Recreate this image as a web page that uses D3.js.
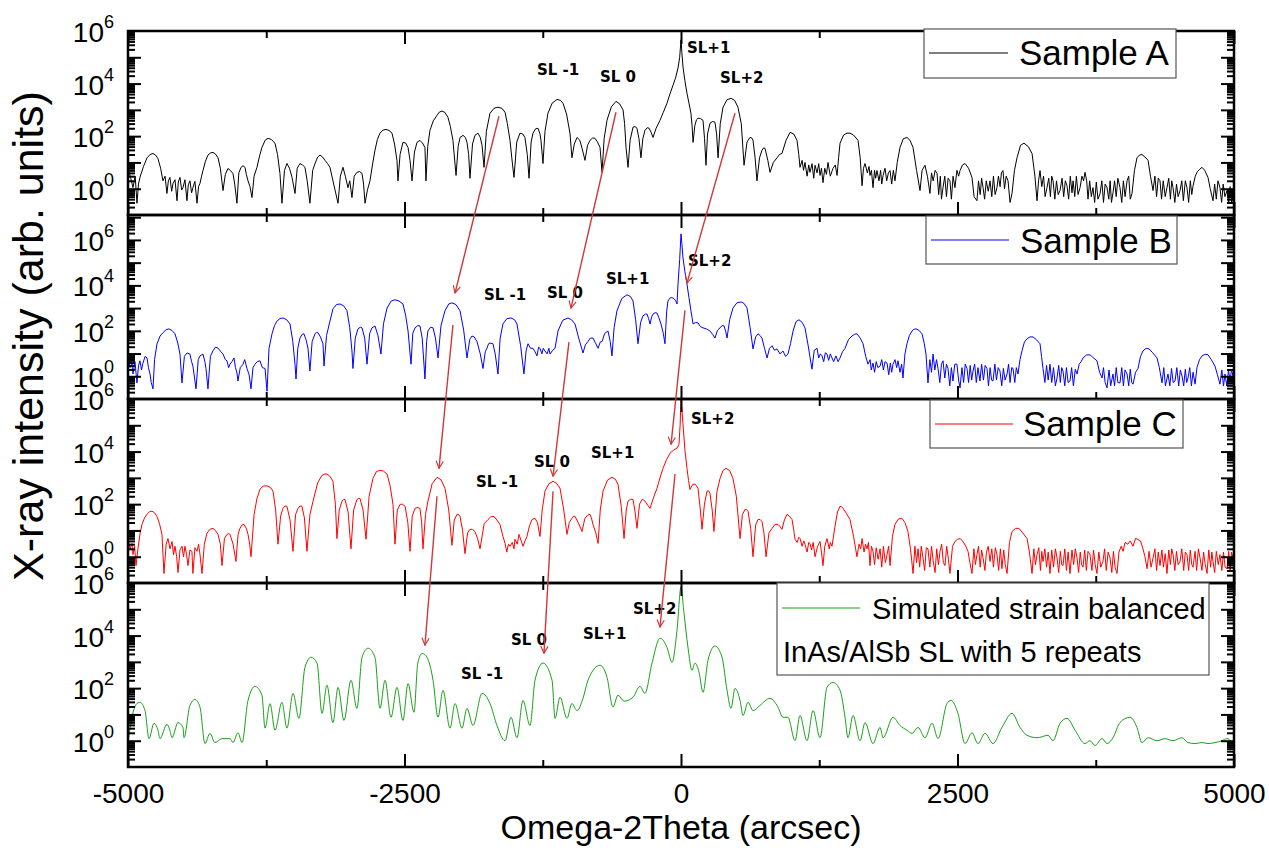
<!DOCTYPE html>
<html>
<head>
<meta charset="utf-8">
<script src="https://cdn.jsdelivr.net/npm/d3@7"></script>
<style>
  body { margin: 0; background: #fff; }
  svg { display: block; font-family: "Liberation Sans", Arial, sans-serif; }
</style>
</head>
<body>
<svg id="chart" width="1269" height="848"></svg>
<script>
/* Stacked omega-2theta XRD scans, log intensity, four samples */

// x axis ticks (arcsec)
var xMajor = [-5000, -2500, 0, 2500, 5000];
var xMinor = [-3750, -1250, 1250, 3750];

// y axis decades that carry a label, and each panel's intensity range
var yLabelPowers = [0, 2, 4, 6];
var yDomains = [[0.1, 1e6], [0.1, 1.25e7], [0.1, 1e6], [0.1, 1e6]];

// [arcsec, intensity]
var sampleA = [
  [-5000,5.9],[-4975,2.5],[-4955,1.1],[-4935,3],[-4919,0.28],[-4905,1.5],[-4892,2.7],[-4860,7],[-4828,15],[-4800,20],
  [-4774,22],[-4750,19],[-4729,14],[-4705,6],[-4684,2],[-4665,3],[-4648,0.66],[-4635,2],[-4621,2.7],[-4605,0.8],
  [-4593,1.6],[-4575,2.2],[-4557,0.35],[-4545,1.8],[-4530,2.7],[-4515,0.9],[-4503,1.1],[-4485,2.2],[-4467,0.35],[-4455,1.4],
  [-4440,2],[-4425,0.7],[-4413,1.1],[-4395,1.9],[-4376,0.28],[-4362,1.2],[-4349,1.6],[-4335,3],[-4322,4.9],[-4300,11],
  [-4277,19],[-4255,23],[-4232,24],[-4210,21],[-4186,15],[-4165,6],[-4141,0.85],[-4120,3.5],[-4096,5.9],[-4075,5],
  [-4051,3.8],[-4035,1.5],[-4015,0.28],[-3998,4],[-3978,6.5],[-3960,7.5],[-3942,6.5],[-3930,3.5],[-3915,2],[-3897,1.2],
  [-3879,0.46],[-3860,3],[-3834,6.5],[-3810,18],[-3789,37],[-3760,70],[-3734,83],[-3705,75],[-3671,54],[-3648,20],
  [-3626,3.8],[-3608,0.28],[-3585,5],[-3563,9.1],[-3540,6],[-3517,2.7],[-3490,0.66],[-3470,6],[-3445,9.1],[-3422,8],
  [-3400,6.5],[-3380,2],[-3355,0.28],[-3330,5],[-3309,9.1],[-3285,16],[-3264,19],[-3240,16],[-3219,12],[-3195,9],
  [-3174,6.5],[-3147,2],[-3101,0.28],[-3080,3],[-3056,6.5],[-3035,3],[-3011,1.1],[-2995,2],[-2975,0.46],[-2955,3],
  [-2930,4.2],[-2905,4.5],[-2884,3.8],[-2870,1.5],[-2857,0.28],[-2835,0.9],[-2812,2],[-2790,8],[-2767,29],[-2745,75],
  [-2722,130],[-2695,170],[-2667,180],[-2640,165],[-2613,130],[-2590,50],[-2568,12],[-2559,2],[-2540,20],[-2514,58],
  [-2490,55],[-2468,37],[-2450,12],[-2432,2],[-2410,25],[-2387,58],[-2360,69],[-2338,55],[-2315,37],[-2306,2],
  [-2290,40],[-2270,165],[-2240,380],[-2206,620],[-2185,820],[-2161,900],[-2135,800],[-2107,520],[-2085,230],[-2062,69],
  [-2034,3.2],[-2015,40],[-1998,89],[-1971,107],[-1950,90],[-1935,58],[-1920,20],[-1908,2.5],[-1885,50],[-1863,107],
  [-1836,130],[-1815,90],[-1799,45],[-1781,6.5],[-1760,150],[-1727,740],[-1690,1150],[-1655,1260],[-1620,1150],[-1591,810],
  [-1570,300],[-1546,69],[-1530,15],[-1510,2.7],[-1485,60],[-1456,130],[-1430,120],[-1411,89],[-1390,20],[-1374,2.5],
  [-1355,60],[-1338,130],[-1315,190],[-1293,200],[-1275,120],[-1266,69],[-1248,9.1],[-1230,150],[-1203,740],[-1165,1800],
  [-1121,2500],[-1090,2300],[-1067,1780],[-1035,700],[-1004,130],[-986,15],[-965,50],[-940,89],[-915,70],[-895,35],
  [-868,12],[-845,45],[-823,69],[-800,85],[-778,83],[-755,60],[-732,37],[-714,4.2],[-695,80],[-669,400],
  [-630,1300],[-588,2100],[-555,1700],[-524,1000],[-510,300],[-497,37],[-479,6.5],[-460,70],[-434,220],[-415,230],
  [-398,200],[-380,80],[-362,15],[-345,80],[-326,165],[-305,210],[-289,200],[-270,140],[-253,89],[-225,200],
  [-190,400],[-160,800],[-127,1780],[-100,4000],[-72,8700],[-50,16000],[-27,39000],[-12,100000],[0,460000],[8,150000],
  [18,43000],[35,13000],[54,4300],[72,1800],[90,740],[100,250],[109,58],[125,250],[140,420],[154,480],
  [175,470],[199,400],[213,80],[226,7.8],[240,120],[262,310],[285,360],[307,340],[322,120],[335,15],
  [355,300],[380,1260],[415,2400],[452,2750],[485,2300],[515,1260],[545,300],[570,7.8],[597,60],[624,89],
  [640,85],[651,69],[670,15],[687,2],[710,15],[732,29],[748,36],[760,34],[785,12],[805,4.2],
  [835,10],[868,15],[890,20],[913,22],[950,70],[986,140],[1020,120],[1049,69],[1065,20],[1076,6.5],
  [1095,12],[1108,5],[1121,10],[1140,3],[1155,8],[1166,4.2],[1185,9],[1200,2.5],[1212,7.8],[1230,4],
  [1245,9],[1257,3.2],[1270,6],[1284,1.7],[1300,6],[1315,3.5],[1329,10],[1350,3],[1374,5.9],[1395,8],
  [1411,3.2],[1425,15],[1438,54],[1470,110],[1501,130],[1528,130],[1560,110],[1601,69],[1620,15],[1637,1.3],
  [1650,6],[1664,9.1],[1685,4],[1700,7],[1709,3.2],[1722,5],[1736,1.1],[1750,5],[1760,2.5],[1772,4.9],
  [1790,2],[1805,5],[1815,1.5],[1827,3.2],[1845,6],[1860,2],[1875,4],[1890,4.9],[1905,1.5],[1920,5],
  [1935,2],[1955,10],[1980,37],[2010,80],[2043,89],[2070,70],[2098,37],[2130,5],[2161,0.85],[2180,5],
  [2206,7.8],[2228,3],[2251,0.66],[2265,4],[2280,2],[2298,5],[2315,3.8],[2330,0.6],[2345,3],[2355,0.4],
  [2369,1.1],[2385,3],[2400,0.5],[2415,2.5],[2432,2],[2445,0.4],[2460,3],[2477,1.1],[2495,5],[2510,3],
  [2523,4.9],[2545,8],[2568,9.1],[2600,6],[2631,2.7],[2650,0.5],[2676,0.35],[2690,2],[2705,0.6],[2718,2.5],
  [2731,1.1],[2745,0.4],[2760,2],[2778,0.8],[2794,2],[2810,0.5],[2825,3],[2840,0.6],[2857,1.1],[2870,3],
  [2885,1.2],[2897,4],[2911,4.9],[2925,1],[2940,3],[2957,2],[2975,0.3],[2993,0.66],[3015,5],[3038,15],
  [3070,45],[3101,54],[3140,40],[3174,22],[3200,3],[3219,0.35],[3233,2],[3246,4.9],[3262,1.2],[3278,3],
  [3292,0.5],[3309,1.1],[3325,2.5],[3340,0.5],[3352,3],[3364,2],[3380,0.4],[3395,2],[3410,0.6],[3427,0.85],
  [3445,2.5],[3460,0.5],[3475,2],[3490,1.3],[3505,0.4],[3520,3],[3535,0.7],[3545,2],[3560,0.5],[3575,3],
  [3590,0.6],[3608,1.1],[3625,3],[3640,2],[3653,4.2],[3668,2],[3680,0.4],[3695,2],[3710,0.5],[3725,1.1],
  [3740,0.3],[3755,1.8],[3770,0.4],[3789,0.66],[3805,2],[3820,0.3],[3835,1.5],[3852,1.1],[3868,0.4],[3880,2],
  [3892,0.3],[3906,0.7],[3920,2],[3935,0.5],[3950,2.5],[3969,1.1],[3985,0.3],[4000,2],[4015,0.5],[4033,2],
  [4048,3],[4062,0.4],[4078,0.66],[4100,5],[4123,15],[4145,19],[4168,20],[4195,16],[4223,12],[4245,3],
  [4268,0.85],[4285,3],[4300,0.5],[4315,2.5],[4331,2],[4345,0.4],[4360,2],[4378,0.5],[4394,1.1],[4410,2.5],
  [4425,0.4],[4437,2],[4449,1.1],[4465,0.3],[4480,1.5],[4495,0.5],[4512,0.85],[4528,2],[4542,0.35],[4560,2],
  [4575,1.1],[4590,0.3],[4605,2],[4618,0.6],[4630,1.3],[4650,3],[4670,4.5],[4690,5.5],[4711,6.5],[4735,5],
  [4765,2.7],[4785,1],[4810,0.35],[4825,1.5],[4840,0.4],[4855,2],[4873,1.1],[4888,0.3],[4902,1.5],[4918,0.5],
  [4937,0.85],[4952,0.3],[4965,1.2],[4980,0.3],[4991,0.7],[5000,1.2]
];

var sampleB = [
  [-5000,6.4],[-4982,2.4],[-4964,3.4],[-4955,1.26],[-4937,4.4],[-4919,0.51],[-4905,3],[-4892,4.8],[-4878,1.9],[-4865,3.8],
  [-4845,7.5],[-4828,6.4],[-4815,2.4],[-4801,1.26],[-4790,0.53],[-4774,0.28],[-4760,5.4],[-4738,26.6],[-4710,59],[-4684,82],
  [-4655,113],[-4630,122],[-4600,101],[-4575,74],[-4550,29],[-4530,9.5],[-4512,0.51],[-4490,7.5],[-4467,10.6],[-4440,9.5],
  [-4425,4.4],[-4413,2.8],[-4385,0.28],[-4365,5.4],[-4349,7.9],[-4322,9.5],[-4305,4.4],[-4295,2.2],[-4277,0.28],[-4255,7.5],
  [-4232,13.1],[-4210,19.1],[-4186,17.4],[-4160,12],[-4141,9.5],[-4120,5.4],[-4105,4.8],[-4090,2.4],[-4078,3.4],[-4060,4.4],
  [-4042,6.4],[-4028,2.4],[-4015,1.4],[-4006,0.62],[-3985,2.4],[-3960,3.4],[-3945,5.4],[-3924,2.2],[-3905,1.17],[-3888,0.28],
  [-3870,2.4],[-3852,3.4],[-3830,4.4],[-3807,4.8],[-3785,2.4],[-3761,2.2],[-3743,0.22],[-3725,16.7],[-3698,74],[-3675,170],
  [-3653,268],[-3625,350],[-3599,368],[-3565,307],[-3535,200],[-3510,34],[-3490,3.4],[-3481,0.76],[-3465,16.7],[-3445,48],
  [-3425,71],[-3409,74],[-3390,40],[-3373,17.4],[-3355,1.7],[-3335,34],[-3309,74],[-3295,86],[-3282,82],[-3260,54],
  [-3237,27],[-3228,2.8],[-3205,62],[-3174,268],[-3147,925],[-3115,1430],[-3083,1520],[-3050,1260],[-3020,763],[-2995,138],
  [-2975,13],[-2966,2.2],[-2945,48],[-2921,122],[-2900,144],[-2884,135],[-2860,48],[-2839,3.4],[-2815,77],[-2794,135],
  [-2767,164],[-2740,62],[-2713,9.5],[-2690,204],[-2658,1007],[-2620,2054],[-2586,2330],[-2550,2054],[-2514,1520],[-2490,490],
  [-2468,98],[-2441,3.4],[-2425,77],[-2405,135],[-2380,170],[-2360,164],[-2340,48],[-2315,0.76],[-2300,34],[-2288,98],
  [-2265,144],[-2242,135],[-2220,48],[-2197,6.4],[-2170,170],[-2134,763],[-2100,1520],[-2071,1700],[-2035,1430],[-1998,763],
  [-1965,107],[-1935,6.4],[-1910,42],[-1890,59],[-1870,54],[-1845,34],[-1815,9.7],[-1790,2.2],[-1770,12],[-1754,17.4],
  [-1740,27],[-1727,29],[-1700,27],[-1680,9.7],[-1655,1.26],[-1635,48],[-1610,200],[-1575,343],[-1537,368],[-1505,307],
  [-1483,200],[-1450,22],[-1420,1.26],[-1400,14],[-1383,27],[-1360,17],[-1338,17],[-1320,12],[-1302,7.9],[-1288,19],
  [-1275,17],[-1258,9.7],[-1245,17],[-1230,13],[-1210,9.7],[-1195,17],[-1184,9.5],[-1160,14],[-1139,17],[-1112,98],
  [-1070,290],[-1022,368],[-990,307],[-958,200],[-925,48],[-886,10.6],[-865,24],[-841,34],[-820,48],[-796,48],
  [-770,27],[-750,17],[-730,32],[-714,34],[-690,77],[-660,98],[-640,34],[-624,7.9],[-605,138],[-579,763],
  [-535,2660],[-488,3870],[-455,3140],[-434,2054],[-410,307],[-389,27],[-365,237],[-344,453],[-320,547],[-307,547],
  [-293,343],[-280,200],[-265,416],[-253,547],[-235,625],[-217,605],[-200,379],[-181,200],[-160,77],[-145,27],
  [-130,683],[-118,2054],[-95,2900],[-72,2800],[-50,2190],[-36,1520],[-27,11400],[-12,138000],[0,1850000],[8,684000],
  [18,162000],[35,41000],[54,11400],[72,2900],[90,763],[100,379],[109,200],[130,231],[154,224],[175,154],
  [199,135],[230,122],[262,98],[285,71],[307,48],[330,107],[353,135],[370,170],[389,164],[405,92],
  [416,48],[440,307],[470,1007],[505,1700],[543,1875],[570,1607],[597,1007],[625,138],[651,16],[675,54],
  [696,74],[715,62],[732,48],[755,17],[778,6.4],[800,17],[823,22],[845,14],[868,16],[895,9.7],
  [922,13],[945,7.5],[967,9.5],[990,27],[1013,98],[1040,255],[1067,307],[1095,237],[1121,135],[1150,22],
  [1184,2.05],[1205,14],[1230,17],[1245,6.4],[1260,9.7],[1275,7.9],[1290,4.4],[1305,10.8],[1320,9.5],[1335,5],
  [1350,9.7],[1365,6.4],[1380,4.4],[1401,7.9],[1420,4.4],[1438,6.4],[1460,12],[1483,17],[1515,42],[1546,59],
  [1570,71],[1591,74],[1620,48],[1646,27],[1670,7.5],[1691,3.4],[1710,5.4],[1720,1.9],[1736,3.8],[1750,1.5],
  [1765,4.4],[1780,2.4],[1800,2.8],[1815,5.4],[1830,1.9],[1845,4.4],[1863,3.8],[1878,1.17],[1893,3.8],[1905,1.5],
  [1917,3.4],[1935,5.4],[1950,2.4],[1962,4.8],[1980,1.5],[1995,3.4],[2007,0.84],[2025,9.7],[2043,27],[2065,62],
  [2089,98],[2105,116],[2125,122],[2150,107],[2179,74],[2200,27],[2215,9.5],[2233,0.51],[2250,5.4],[2265,1.5],
  [2279,9.5],[2295,1.9],[2310,5.4],[2324,2.2],[2340,0.53],[2355,3.4],[2369,4.8],[2385,0.84],[2400,3.4],[2414,2.2],
  [2430,0.38],[2445,2.4],[2459,0.62],[2475,3.4],[2495,3.4],[2510,0.68],[2523,0.31],[2540,2.4],[2555,0.53],[2570,3.4],
  [2586,2.2],[2600,0.53],[2615,3],[2628,0.68],[2640,1.7],[2655,3.4],[2670,0.53],[2685,2.4],[2703,0.62],[2718,3.4],
  [2735,0.68],[2750,3],[2767,2.2],[2780,0.38],[2795,2.4],[2808,0.68],[2821,0.62],[2838,3.4],[2852,0.68],[2868,2.4],
  [2884,1.7],[2900,0.38],[2915,2.2],[2930,0.68],[2948,1.26],[2962,3.4],[2975,0.53],[2990,2.4],[3002,2.2],[3018,0.53],
  [3032,2.4],[3047,1.26],[3065,5.4],[3083,13],[3105,32],[3129,45],[3155,54],[3183,54],[3215,40],[3246,27],
  [3260,7.5],[3273,2.2],[3290,0.53],[3305,3],[3320,0.68],[3336,3.4],[3352,0.53],[3368,2.4],[3385,0.38],[3400,0.84],
  [3415,3],[3430,0.53],[3442,2.4],[3454,1.7],[3470,0.38],[3485,2.4],[3500,0.53],[3517,0.62],[3532,2.4],[3548,0.38],
  [3565,2.05],[3581,1.26],[3600,3.4],[3618,4.4],[3635,6.4],[3665,8.6],[3698,8.8],[3730,6.4],[3761,4.8],[3785,1.5],
  [3807,0.84],[3820,2.4],[3835,0.53],[3852,0.31],[3870,1.9],[3885,0.38],[3906,1.26],[3920,0.38],[3935,2.4],[3950,0.53],
  [3969,0.51],[3985,2.4],[4000,0.38],[4015,1.9],[4033,1.26],[4048,0.38],[4062,2.05],[4075,0.53],[4087,0.45],[4110,1.5],
  [4132,2.2],[4155,7.5],[4177,13],[4205,17],[4232,16],[4265,10.8],[4304,6.4],[4325,2.4],[4349,0.51],[4365,2.4],
  [4380,0.38],[4403,1.26],[4420,0.38],[4435,2.2],[4450,0.53],[4467,0.62],[4483,2.4],[4500,0.38],[4515,1.9],[4530,1.02],
  [4545,0.38],[4560,2.05],[4572,0.53],[4584,0.84],[4600,2.4],[4615,0.38],[4630,1.5],[4648,0.45],[4665,2.4],[4688,5.4],
  [4711,7.9],[4740,9.3],[4765,8.8],[4795,5.4],[4828,2.8],[4850,1.17],[4873,0.45],[4890,1.9],[4905,0.38],[4919,1.26],
  [4935,0.38],[4950,1.9],[4964,0.62],[4978,2.05],[4991,1.02],[5000,2.4]
];

var sampleC = [
  [-5000,4.9],[-4982,2],[-4964,3.2],[-4955,1.2],[-4940,2.5],[-4928,0.46],[-4910,2],[-4890,8],[-4874,17],[-4850,30],
  [-4828,41],[-4805,52],[-4783,54],[-4760,47],[-4738,34],[-4715,18],[-4693,7.1],[-4675,0.23],[-4655,3],[-4639,4.9],
  [-4620,2],[-4602,3.8],[-4588,1.2],[-4575,2.5],[-4560,1],[-4548,0.25],[-4530,1.8],[-4512,2.5],[-4498,1],[-4485,2.5],
  [-4470,1.2],[-4458,0.46],[-4440,1.8],[-4422,1.6],[-4413,0.23],[-4395,2.2],[-4376,1.6],[-4362,3],[-4349,1.2],[-4331,0.23],
  [-4310,3],[-4286,7.8],[-4260,11],[-4232,12],[-4210,10],[-4186,7.1],[-4165,3],[-4150,0.46],[-4128,5],[-4105,7.1],
  [-4090,7.5],[-4078,7.1],[-4050,3],[-4024,0.66],[-4005,7],[-3988,12],[-3970,16],[-3951,17],[-3930,12],[-3915,7.1],
  [-3900,3],[-3888,1],[-3860,40],[-3834,165],[-3805,380],[-3779,480],[-3755,500],[-3734,480],[-3710,420],[-3689,310],
  [-3665,60],[-3644,3],[-3620,35],[-3599,69],[-3580,85],[-3563,83],[-3535,25],[-3508,1.6],[-3485,40],[-3463,69],
  [-3445,85],[-3427,83],[-3405,30],[-3382,1.6],[-3355,40],[-3327,130],[-3285,650],[-3246,1250],[-3220,1400],[-3201,1400],
  [-3175,1150],[-3147,740],[-3125,100],[-3111,4.9],[-3090,60],[-3065,130],[-3050,150],[-3038,150],[-3010,50],[-2984,2],
  [-2960,60],[-2930,150],[-2915,165],[-2902,165],[-2875,60],[-2848,4.6],[-2820,200],[-2785,950],[-2755,1700],[-2722,1950],
  [-2690,1800],[-2658,1400],[-2630,500],[-2604,98],[-2586,3],[-2565,60],[-2540,98],[-2520,100],[-2495,83],[-2470,20],
  [-2450,1.6],[-2430,35],[-2405,69],[-2385,75],[-2360,69],[-2345,20],[-2333,2],[-2310,40],[-2288,130],[-2250,600],
  [-2206,1050],[-2170,850],[-2134,400],[-2100,60],[-2071,2.7],[-2050,25],[-2025,41],[-2010,40],[-1998,34],[-1975,10],
  [-1953,1.3],[-1930,8],[-1908,11],[-1885,11],[-1863,9.1],[-1840,5],[-1817,2],[-1780,18],[-1745,26],[-1720,33],
  [-1691,34],[-1665,25],[-1637,17],[-1610,6],[-1591,3.2],[-1575,1.5],[-1560,3],[-1546,2.5],[-1525,3.5],[-1510,2],
  [-1501,4.6],[-1480,3],[-1465,7.1],[-1445,4],[-1429,2.5],[-1410,4],[-1393,5.9],[-1370,15],[-1347,26],[-1320,29],
  [-1298,20],[-1275,5.9],[-1255,60],[-1230,310],[-1195,600],[-1157,740],[-1125,620],[-1094,400],[-1060,60],[-1031,7.1],
  [-1010,20],[-986,29],[-972,35],[-958,34],[-930,20],[-895,9.1],[-880,18],[-868,29],[-845,38],[-823,41],
  [-810,30],[-796,17],[-770,8],[-750,3.2],[-730,60],[-705,310],[-665,820],[-624,1050],[-595,900],[-570,580],
  [-540,80],[-515,4.9],[-495,60],[-479,130],[-455,155],[-434,150],[-415,50],[-398,12],[-375,100],[-353,150],
  [-340,145],[-326,130],[-300,90],[-280,69],[-250,170],[-217,400],[-190,1000],[-163,2300],[-130,5000],[-99,8700],
  [-65,11500],[-36,13500],[-18,19000],[-8,100000],[0,1000000],[8,400000],[18,110000],[35,12000],[54,2300],[68,800],
  [81,360],[105,560],[127,580],[140,500],[154,400],[175,60],[190,11],[212,100],[235,310],[250,320],
  [262,260],[282,60],[298,9.1],[325,300],[353,950],[380,1900],[407,2300],[440,1900],[470,950],[500,200],
  [534,4.9],[555,40],[579,63],[592,62],[606,54],[630,12],[651,1],[675,16],[696,26],[715,26],
  [732,22],[750,8],[769,1],[795,8],[823,12],[850,17],[877,17],[895,14],[913,11],[935,25],
  [958,41],[980,35],[1004,26],[1020,10],[1031,4.6],[1050,3.5],[1065,5.5],[1076,4.9],[1095,2.5],[1110,4],
  [1121,3],[1140,1.5],[1155,3.5],[1166,3.2],[1180,1.8],[1195,3.5],[1212,1],[1235,2.5],[1257,3.8],[1270,1.5],
  [1284,0.46],[1300,2.5],[1320,4.9],[1340,2],[1350,3.5],[1365,2.5],[1392,14],[1415,50],[1438,83],[1452,80],
  [1465,69],[1495,45],[1528,26],[1560,6],[1591,1],[1610,3],[1625,2],[1637,4.9],[1655,1.5],[1668,3],
  [1682,2],[1695,3.5],[1709,0.46],[1722,2.5],[1736,1.6],[1750,0.5],[1765,2.2],[1782,0.8],[1800,2],[1815,0.4],
  [1830,2.5],[1848,0.6],[1863,1.2],[1877,2.5],[1890,0.46],[1912,6],[1935,17],[1965,27],[1998,29],[2025,20],
  [2052,9.1],[2075,2],[2098,0.23],[2115,2.5],[2130,0.6],[2143,2],[2158,0.4],[2172,2.5],[2188,0.9],[2203,0.3],
  [2218,2.2],[2233,2],[2250,0.4],[2265,2.5],[2280,0.7],[2297,0.25],[2312,2],[2327,0.5],[2342,1.6],[2357,3],
  [2372,0.6],[2387,0.46],[2402,2.5],[2418,0.8],[2432,0.23],[2455,2.5],[2477,3.8],[2500,4.6],[2523,4.9],[2550,3.8],
  [2575,2.5],[2595,1.6],[2612,0.6],[2631,0.23],[2648,2],[2662,0.5],[2676,1.2],[2690,2.5],[2705,0.4],[2718,1.8],
  [2731,0.9],[2748,0.3],[2762,1.5],[2778,2.5],[2794,0.66],[2810,2],[2825,0.4],[2842,2.2],[2857,1.2],[2872,0.3],
  [2888,2],[2902,0.35],[2918,1.8],[2932,0.5],[2948,0.23],[2970,3.5],[2993,9.1],[3025,12],[3056,12],[3090,8],
  [3129,4.9],[3150,1.5],[3174,0.23],[3190,2],[3205,0.5],[3219,1.2],[3235,2.2],[3250,0.3],[3262,1.6],[3273,0.66],
  [3290,2],[3305,0.4],[3320,1.5],[3336,0.23],[3352,1.8],[3368,0.4],[3385,2],[3400,0.9],[3415,0.25],[3430,1.6],
  [3442,0.5],[3454,0.46],[3470,2],[3485,0.3],[3500,1.5],[3517,0.23],[3535,1.8],[3550,0.5],[3565,2],[3581,0.9],
  [3595,0.25],[3610,1.5],[3622,0.5],[3635,0.4],[3650,1.8],[3665,0.3],[3680,1.6],[3698,1.2],[3715,0.3],[3730,1.8],
  [3745,0.5],[3761,0.23],[3778,1.5],[3795,0.4],[3815,0.66],[3830,2],[3845,0.3],[3862,1.5],[3879,0.9],[3895,0.25],
  [3910,1.6],[3925,0.4],[3942,0.23],[3960,1.5],[3980,2.5],[3997,1.6],[4015,3.5],[4040,3],[4062,4],[4087,2.5],
  [4110,5],[4132,4.5],[4155,4],[4177,2],[4195,1],[4214,0.35],[4232,1.6],[4250,0.4],[4268,0.9],[4285,2],
  [4300,0.3],[4315,1.5],[4331,0.46],[4348,1.8],[4362,0.4],[4378,1.3],[4394,0.23],[4410,1.8],[4425,0.5],[4437,2],
  [4449,1.2],[4465,0.3],[4480,1.6],[4495,0.5],[4512,0.66],[4528,2],[4545,0.3],[4560,1.5],[4575,1.2],[4590,0.3],
  [4605,1.8],[4618,0.5],[4630,0.4],[4648,1.6],[4662,0.3],[4678,2],[4693,0.9],[4710,0.3],[4725,1.5],[4740,0.5],
  [4756,0.23],[4772,1.8],[4788,0.4],[4800,1.5],[4810,0.66],[4825,0.25],[4840,1.6],[4858,0.5],[4873,1.2],[4890,0.3],
  [4905,1.5],[4920,0.4],[4937,0.35],[4952,1.6],[4965,0.3],[4978,1.5],[4991,0.9],[5000,0.4]
];

var simulated = [
  [-5000,0.85],[-4964,7.8],[-4919,26],[-4892,29],[-4846,14],[-4810,1.2],[-4765,4.6],[-4729,2.5],[-4711,1.2],[-4648,4.2],
  [-4621,2.5],[-4602,1.3],[-4548,4.9],[-4503,3.2],[-4494,1.3],[-4440,22],[-4394,37],[-4349,19],[-4304,0.78],[-4259,1.9],
  [-4214,0.85],[-4150,1.2],[-4078,1.2],[-4051,0.85],[-4006,2],[-3969,0.85],[-3915,34],[-3852,117],[-3789,54],[-3761,3],
  [-3716,26],[-3671,2.5],[-3608,29],[-3563,3],[-3508,63],[-3454,7.1],[-3400,620],[-3345,1500],[-3291,900],[-3246,11],
  [-3201,130],[-3147,4.9],[-3101,107],[-3047,5.9],[-2984,200],[-2930,17],[-2884,1500],[-2830,3300],[-2767,1500],[-2722,17],
  [-2676,200],[-2622,7.8],[-2568,107],[-2514,5.9],[-2468,150],[-2414,12],[-2380,900],[-2340,2100],[-2297,1500],[-2242,200],
  [-2197,7.8],[-2152,83],[-2089,3],[-2043,26],[-1980,3],[-1935,17],[-1881,3.8],[-1799,63],[-1727,26],[-1664,3.8],
  [-1591,1],[-1537,7.8],[-1483,1.3],[-1429,34],[-1365,3.8],[-1320,200],[-1248,900],[-1166,200],[-1139,7.1],[-1094,45],
  [-1031,7.1],[-986,26],[-940,14],[-886,41],[-841,200],[-732,740],[-669,260],[-615,19],[-570,54],[-515,32],
  [-434,45],[-371,117],[-326,63],[-262,900],[-190,7900],[-127,3600],[-81,950],[-36,16000],[0,700000],[27,71000],
  [63,3600],[99,480],[127,900],[163,400],[199,69],[244,1150],[307,4000],[371,1500],[416,83],[452,17],
  [488,98],[534,34],[561,9.1],[606,29],[651,14],[714,22],[805,41],[877,19],[922,7.8],[967,7.8],
  [1031,1],[1076,9.1],[1139,1],[1194,14],[1257,1.3],[1320,107],[1374,165],[1438,83],[1483,7.8],[1510,1.3],
  [1555,9.1],[1619,1],[1664,4.9],[1736,0.78],[1800,3.2],[1827,1.3],[1917,7.8],[1980,3.8],[2043,2.5],[2089,1.9],
  [2143,3.2],[2206,1.3],[2270,4.6],[2324,1.2],[2405,26],[2441,34],[2504,11],[2568,0.78],[2631,2],[2685,0.78],
  [2749,1.9],[2821,0.78],[2902,3.2],[2993,11],[3065,3.2],[3129,1.6],[3219,1.3],[3318,1.6],[3364,1],[3427,4.6],
  [3490,7.1],[3563,2.5],[3653,0.78],[3698,1],[3743,0.66],[3807,1.2],[3852,0.78],[3906,1.3],[3969,4.9],[4060,7.8],
  [4123,3.2],[4168,0.85],[4223,1.3],[4304,1],[4376,1.2],[4449,1],[4530,1.3],[4584,0.85],[4648,0.78],[4711,0.85],
  [4765,0.78],[4828,0.85],[4891,1],[4937,1.2],[4991,0.78]
];

var seriesData = [sampleA, sampleB, sampleC, simulated];
var seriesNames = ['Sample A', 'Sample B', 'Sample C', 'Simulated strain balanced'];
var seriesColors = ['#000000', '#0000ff', '#ff0000', '#18a018'];
var legendExtra = ['', '', '', 'InAs/AlSb SL with 5 repeats'];

// satellite peak labels: [panel, text, arcsec, intensity] (left/baseline anchor)
var peakLabels = [
  [0, 'SL -1', -1302, 21000], [0, 'SL 0', -732, 11000], [0, 'SL+1', 54, 145000], [0, 'SL+2', 353, 10500],
  [1, 'SL -1', -1781, 2300], [1, 'SL 0', -1212, 2800], [1, 'SL+1', -678, 11400], [1, 'SL+2', 63, 69500],
  [2, 'SL -1', -1854, 440], [2, 'SL 0', -1329, 2500], [2, 'SL+1', -814, 5600], [2, 'SL+2', 90, 110000],
  [3, 'SL -1', -1989, 220], [3, 'SL 0', -1537, 4300], [3, 'SL+1', -886, 7200], [3, 'SL+2', -434, 66000]
];

// arrows tracking peaks between panels: [fromPanel, arcsec, intensity, toPanel, arcsec, intensity]
var peakArrows = [
  [0, -1646, 570, 1, -2043, 4620],
  [0, -588, 810, 1, -995, 1000],
  [0, 488, 740, 1, 54, 12600],
  [1, -2062, 180, 2, -2188, 2300],
  [1, -1013, 32, 2, -1157, 1150],
  [1, 36, 800, 2, -90, 19000],
  [2, -2206, 200, 3, -2315, 4300],
  [2, -1157, 310, 3, -1239, 2100],
  [2, -54, 1400, 3, -190, 21000]
];

var svg = d3.select('#chart');
var left = 128, right = 1234, top0 = 31, panelH = 184;
var nPanels = seriesData.length;
var bottom = top0 + nPanels * panelH;

var x = d3.scaleLinear().domain([-5000, 5000]).range([left, right]);
var yScales = seriesData.map(function (d, i) {
  var t = top0 + i * panelH;
  return d3.scaleLog().domain(yDomains[i]).range([t + panelH, t]);
});

function inside(dom) {
  return function (v) { return v > dom[0] * 1.001 && v < dom[1] * 0.999; };
}
function majorTicks(dom) {
  return d3.range(-1, 9).map(function (p) { return Math.pow(10, p); }).filter(inside(dom));
}
function minorTicks(dom) {
  var out = [];
  for (var p = -1; p <= 8; p++) {
    for (var k = 2; k <= 9; k++) out.push(+(k + 'e' + p));
  }
  return out.filter(inside(dom));
}

var defs = svg.append('defs');
defs.append('marker')
  .attr('id', 'arrowhead').attr('viewBox', '0 0 10 10')
  .attr('refX', 9).attr('refY', 5)
  .attr('markerWidth', 9).attr('markerHeight', 9)
  .attr('markerUnits', 'userSpaceOnUse')
  .attr('orient', 'auto')
  .append('path').attr('d', 'M1,1 L9,5 L1,9')
  .attr('fill', 'none').attr('stroke', '#d03838').attr('stroke-width', 1.3);

/* data curves */
seriesData.forEach(function (data, i) {
  var y = yScales[i];
  var line = d3.line()
    .x(function (d) { return x(d[0]); })
    .y(function (d) { return y(d[1]); })
    .curve(i === 3 ? d3.curveMonotoneX : d3.curveLinear);
  svg.append('path').datum(data)
    .attr('d', line)
    .attr('fill', 'none')
    .attr('stroke', seriesColors[i])
    .attr('stroke-width', 1)
    .attr('stroke-linejoin', 'round');
});

/* axes, ticks, frame */
function styleAxis(g) {
  g.select('.domain').remove();
  g.selectAll('.tick line').attr('stroke', '#000').attr('stroke-width', 2);
}

seriesData.forEach(function (data, i) {
  var y = yScales[i];
  var dom = yDomains[i];
  var t = top0 + i * panelH, b = t + panelH;

  svg.append('g').attr('transform', 'translate(0,' + b + ')')
    .call(d3.axisBottom(x).tickValues(xMajor).tickSize(-13).tickFormat(''))
    .call(styleAxis);
  svg.append('g').attr('transform', 'translate(0,' + b + ')')
    .call(d3.axisBottom(x).tickValues(xMinor).tickSize(-7).tickFormat(''))
    .call(styleAxis);
  svg.append('g').attr('transform', 'translate(0,' + t + ')')
    .call(d3.axisTop(x).tickValues(xMajor).tickSize(-13).tickFormat(''))
    .call(styleAxis);
  svg.append('g').attr('transform', 'translate(0,' + t + ')')
    .call(d3.axisTop(x).tickValues(xMinor).tickSize(-7).tickFormat(''))
    .call(styleAxis);

  svg.append('g').attr('transform', 'translate(' + left + ',0)')
    .call(d3.axisLeft(y).tickValues(majorTicks(dom)).tickSize(-13).tickFormat(''))
    .call(styleAxis);
  svg.append('g').attr('transform', 'translate(' + left + ',0)')
    .call(d3.axisLeft(y).tickValues(minorTicks(dom)).tickSize(-7).tickFormat(''))
    .call(styleAxis);
  svg.append('g').attr('transform', 'translate(' + right + ',0)')
    .call(d3.axisRight(y).tickValues(majorTicks(dom)).tickSize(-13).tickFormat(''))
    .call(styleAxis);
  svg.append('g').attr('transform', 'translate(' + right + ',0)')
    .call(d3.axisRight(y).tickValues(minorTicks(dom)).tickSize(-7).tickFormat(''))
    .call(styleAxis);

  svg.append('rect')
    .attr('x', left).attr('y', t)
    .attr('width', right - left).attr('height', panelH)
    .attr('fill', 'none').attr('stroke', '#000').attr('stroke-width', 2.5);

  // y labels 10^n
  yLabelPowers.forEach(function (pw) {
    var txt = svg.append('text')
      .attr('x', left - 14).attr('y', y(Math.pow(10, pw)) + 11)
      .attr('text-anchor', 'end')
      .style('font-size', '28px').attr('fill', '#000')
      .text('10');
    txt.append('tspan').attr('dy', -14).style('font-size', '18px').text(pw);
  });
});

/* bottom tick labels */
svg.append('g').attr('transform', 'translate(0,' + bottom + ')')
  .call(d3.axisBottom(x).tickValues(xMajor).tickSize(0).tickPadding(16)
    .tickFormat(function (d) { return String(d); }))
  .call(function (g) {
    g.select('.domain').remove();
    g.selectAll('text').style('font-size', '28px')
      .style('font-family', '"Liberation Sans", Arial, sans-serif').attr('fill', '#000');
  });

/* axis titles */
svg.append('text')
  .attr('x', (left + right) / 2).attr('y', 839)
  .attr('text-anchor', 'middle').style('font-size', '34px')
  .text('Omega-2Theta (arcsec)');

svg.append('text')
  .attr('transform', 'translate(43,' + 336 + ') rotate(-90)')
  .attr('text-anchor', 'middle').style('font-size', '43px')
  .text('X-ray intensity (arb. units)');

/* legends */
var legendBoxes = [
  { x: 924, y: -2, w: 252, h: 49, lx1: 929, lx2: 1008, ly: 22, tx: 1019, ty: 34, fs: 35 },
  { x: 926, y: 1, w: 251, h: 48, lx1: 931, lx2: 1009, ly: 25, tx: 1020, ty: 38, fs: 35 },
  { x: 930, y: 1, w: 253, h: 48, lx1: 935, lx2: 1013, ly: 25, tx: 1023, ty: 37, fs: 35 },
  { x: 777, y: 0, w: 432, h: 92, lx1: 782, lx2: 860, ly: 25, tx: 872, ty: 36, fs: 29 }
];
legendBoxes.forEach(function (lb, i) {
  var t = top0 + i * panelH;
  var g = svg.append('g').attr('transform', 'translate(0,' + t + ')');
  g.append('rect').attr('x', lb.x).attr('y', lb.y).attr('width', lb.w).attr('height', lb.h)
    .attr('fill', '#fff').attr('stroke', '#555').attr('stroke-width', 1.2);
  g.append('line').attr('x1', lb.lx1).attr('x2', lb.lx2).attr('y1', lb.ly).attr('y2', lb.ly)
    .attr('stroke', seriesColors[i]).attr('stroke-width', 1);
  g.append('text').attr('x', lb.tx).attr('y', lb.ty).style('font-size', lb.fs + 'px').text(seriesNames[i]);
  if (legendExtra[i]) {
    g.append('text').attr('x', lb.lx1 + 1).attr('y', lb.ty + 43).style('font-size', lb.fs + 'px').text(legendExtra[i]);
  }
});

/* peak labels */
svg.selectAll('text.sl').data(peakLabels).enter().append('text')
  .attr('class', 'sl')
  .attr('x', function (d) { return x(d[2]); })
  .attr('y', function (d) { return yScales[d[0]](d[3]); })
  .style('font-family', '"DejaVu Sans", sans-serif')
  .style('font-weight', 'bold').style('font-size', '15px')
  .text(function (d) { return d[1]; });

/* arrows */
svg.selectAll('line.arrow').data(peakArrows).enter().append('line')
  .attr('class', 'arrow')
  .attr('x1', function (d) { return x(d[1]); })
  .attr('y1', function (d) { return yScales[d[0]](d[2]); })
  .attr('x2', function (d) { return x(d[4]); })
  .attr('y2', function (d) { return yScales[d[3]](d[5]); })
  .attr('stroke', '#d03838').attr('stroke-width', 1.4)
  .attr('marker-end', 'url(#arrowhead)');
</script>
</body>
</html>
